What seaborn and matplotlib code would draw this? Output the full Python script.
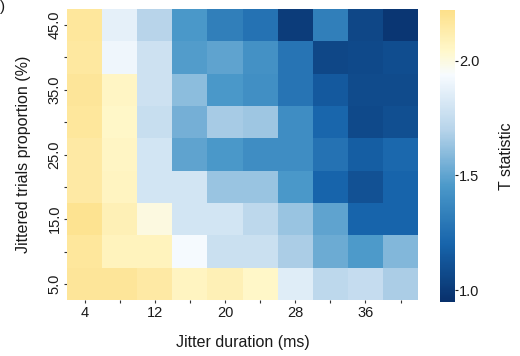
import numpy as np
import pandas as pd
import matplotlib
matplotlib.use("Agg")
import matplotlib.pyplot as plt
import seaborn as sns
from matplotlib.colors import LinearSegmentedColormap

durations = [4, 8, 12, 16, 20, 24, 28, 32, 36, 40]
proportions = [45, 40, 35, 30, 25, 20, 15, 10, 5]
row_45 = [2.17, 1.87, 1.70, 1.45, 1.33, 1.27, 1.01, 1.33, 1.06, 0.98]
row_40 = [2.16, 1.91, 1.78, 1.47, 1.50, 1.42, 1.28, 1.06, 1.07, 1.09]
row_35 = [2.18, 2.06, 1.78, 1.60, 1.45, 1.41, 1.28, 1.15, 1.08, 1.08]
row_30 = [2.17, 2.05, 1.76, 1.55, 1.66, 1.64, 1.40, 1.21, 1.07, 1.10]
row_25 = [2.15, 2.06, 1.80, 1.50, 1.45, 1.40, 1.40, 1.27, 1.17, 1.22]
row_20 = [2.15, 2.07, 1.80, 1.80, 1.63, 1.63, 1.45, 1.20, 1.11, 1.20]
row_15 = [2.20, 2.10, 2.00, 1.80, 1.80, 1.72, 1.63, 1.50, 1.20, 1.20]
row_10 = [2.17, 2.08, 2.08, 1.93, 1.77, 1.77, 1.67, 1.53, 1.46, 1.58]
row_5 = [2.18, 2.18, 2.15, 2.07, 2.10, 2.05, 1.85, 1.72, 1.75, 1.67]

xtick_labels = ["4", "", "12", "", "20", "", "28", "", "36", ""]
ytick_labels = ["45.0", "", "35.0", "", "25.0", "", "15.0", "", "5.0"]
cbar_ticks = [1.0, 1.5, 2.0]

vmin, vmax = 0.95, 2.22
nodes = [(0.95, "#08306b"), (1.2, "#1764ab"), (1.45, "#4a98c9"),
         (1.7, "#b7d4ea"), (1.94, "#f7fbff"), (2.04, "#fff8cc"), (2.22, "#fde08a")]
cmap = LinearSegmentedColormap.from_list(
    "tstat", [((v - vmin) / (vmax - vmin), c) for v, c in nodes])

data = pd.DataFrame([row_45, row_40, row_35, row_30, row_25, row_20, row_15, row_10, row_5],
                    index=proportions, columns=durations)

sns.set_style("white")
plt.rcParams['font.family'] = ['Liberation Sans', 'DejaVu Sans']
plt.rcParams['text.color'] = '#1a1a1a'
plt.rcParams['axes.labelcolor'] = '#1a1a1a'
plt.rcParams['xtick.color'] = '#1a1a1a'
plt.rcParams['ytick.color'] = '#1a1a1a'

fig = plt.figure(figsize=(5.2, 3.56), dpi=100)
ax = fig.add_axes([0.129, 0.157, 0.675, 0.818])
cax = fig.add_axes([0.846, 0.152, 0.029, 0.82])

sns.heatmap(data, ax=ax, cbar_ax=cax, cmap=cmap, vmin=vmin, vmax=vmax,
            xticklabels=xtick_labels, yticklabels=ytick_labels,
            cbar_kws={"ticks": cbar_ticks})

ax.tick_params(axis="both", which="both", length=2, width=0.8, color="#333333",
               labelsize=10.5, pad=2, bottom=True, left=True)
ax.set_xticklabels(xtick_labels, rotation=0)
ax.set_yticklabels(ytick_labels, rotation=90, va="center")
ax.set_xlabel("Jitter duration (ms)", fontsize=11.5, labelpad=11)
ax.set_ylabel("Jittered trials proportion (%)", fontsize=11.5, labelpad=12)

cax.tick_params(length=2, width=0.8, labelsize=10.5, pad=1)
cax.set_yticklabels(["1.0", "1.5", "2.0"])
cax.set_ylabel("T statistic", fontsize=11.5, labelpad=14)
cax.yaxis.set_label_position("right")
for s in cax.spines.values():
    s.set_visible(False)

fig.text(0.0, 1.0, ")", fontsize=11, va="top", ha="left")

fig.savefig("out.png", dpi=100)
